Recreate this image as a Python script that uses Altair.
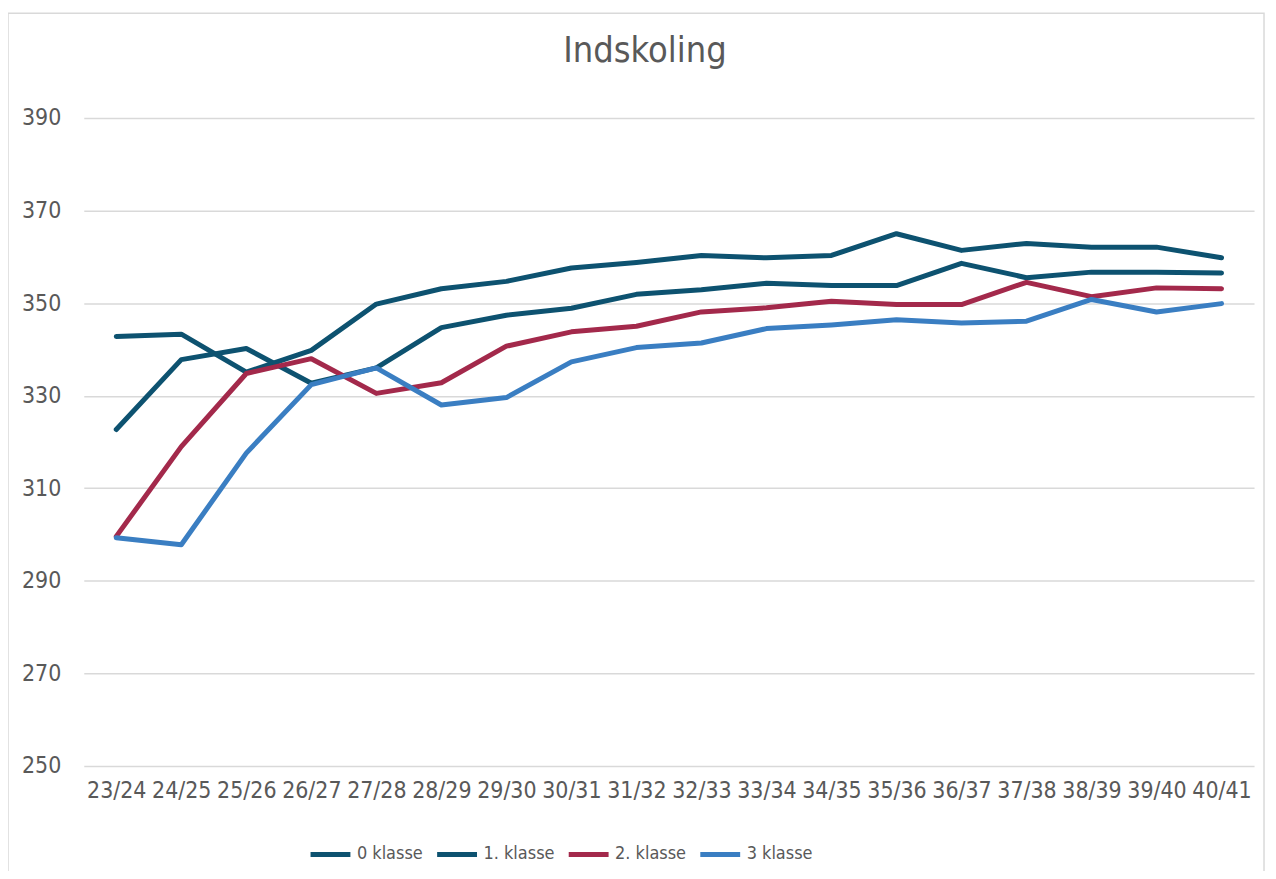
import altair as alt
import pandas as pd

seasons = ["23/24", "24/25", "25/26", "26/27", "27/28", "28/29", "29/30", "30/31", "31/32",
           "32/33", "33/34", "34/35", "35/36", "36/37", "37/38", "38/39", "39/40", "40/41"]
series_names = ["0 klasse", "1. klasse", "2. klasse", "3 klasse"]
klasse_0 = [342.8, 343.3, 335.1, 339.8, 349.8, 353.1, 354.7, 357.6, 358.8, 360.3, 359.8, 360.3,
            365.0, 361.4, 362.9, 362.1, 362.1, 359.8]
klasse_1 = [322.7, 337.8, 340.2, 332.7, 336.0, 344.7, 347.4, 348.9, 351.9, 352.9, 354.3, 353.8,
            353.8, 358.6, 355.5, 356.7, 356.7, 356.5]
klasse_2 = [299.6, 319.0, 334.8, 338.0, 330.5, 332.8, 340.7, 343.8, 345.0, 348.1, 349.0, 350.4,
            349.7, 349.7, 354.5, 351.4, 353.3, 353.1]
klasse_3 = [299.3, 297.8, 317.6, 332.4, 336.0, 328.0, 329.6, 337.3, 340.4, 341.4, 344.5, 345.3,
            346.4, 345.7, 346.1, 350.8, 348.1, 349.9]
colors = ["#0D5270", "#0D5270", "#A3294B", "#3A7EC2"]

rows = []
for name, vals in zip(series_names, [klasse_0, klasse_1, klasse_2, klasse_3]):
    for s, v in zip(seasons, vals):
        rows.append({"season": s, "value": v, "serie": name})
df = pd.DataFrame(rows)

FONT = "DejaVu Sans Condensed, Liberation Sans, sans-serif"
W, H = 1174, 650

lines = alt.Chart(df).mark_line(strokeWidth=5, strokeCap="round", strokeJoin="round").encode(
    x=alt.X("season:N", sort=seasons,
            scale=alt.Scale(type="point", padding=0.5),
            axis=alt.Axis(title=None, labelAngle=0, domain=False, ticks=False, grid=False,
                          labelPadding=14, labelFontSize=23, labelColor="#595959",
                          labelFont=FONT)),
    y=alt.Y("value:Q", scale=alt.Scale(domain=[250, 390], nice=False, zero=False),
            axis=alt.Axis(title=None, values=[250, 270, 290, 310, 330, 350, 370, 390],
                          domain=False, ticks=False, labelPadding=23, labelFontSize=23,
                          labelColor="#595959", labelFont=FONT, gridColor="#d9d9d9",
                          gridWidth=1.5)),
    color=alt.Color("serie:N", sort=series_names,
                    scale=alt.Scale(domain=series_names, range=colors),
                    legend=alt.Legend(title=None, orient="none", direction="horizontal",
                                      legendX=225, legendY=716, symbolType="stroke",
                                      symbolSize=1600, symbolStrokeWidth=5,
                                      labelFontSize=18, labelColor="#595959", labelFont=FONT,
                                      labelOffset=4, columnPadding=3)),
    order=alt.Order("serie:N"),
)

border = alt.Chart(pd.DataFrame({"a": [0]})).mark_rect(
    fill=None, stroke="#d9d9d9", strokeWidth=1.5
).encode(x=alt.value(-76), x2=alt.value(1184), y=alt.value(-105), y2=alt.value(759))

chart = alt.layer(border, lines).properties(
    width=W, height=H,
    title=alt.TitleParams("Indskoling", fontSize=36, font=FONT, color="#595959",
                          fontWeight="normal", anchor="middle", offset=0, dx=-24, dy=86,
                          baseline="alphabetic"),
    padding={"left": 76, "top": 109, "right": 14, "bottom": 104},
    autosize=alt.AutoSizeParams(type="none"),
).configure(background="white").configure_view(stroke=None)

chart.save("out.html", embed_options={"renderer": "svg", "actions": False})
